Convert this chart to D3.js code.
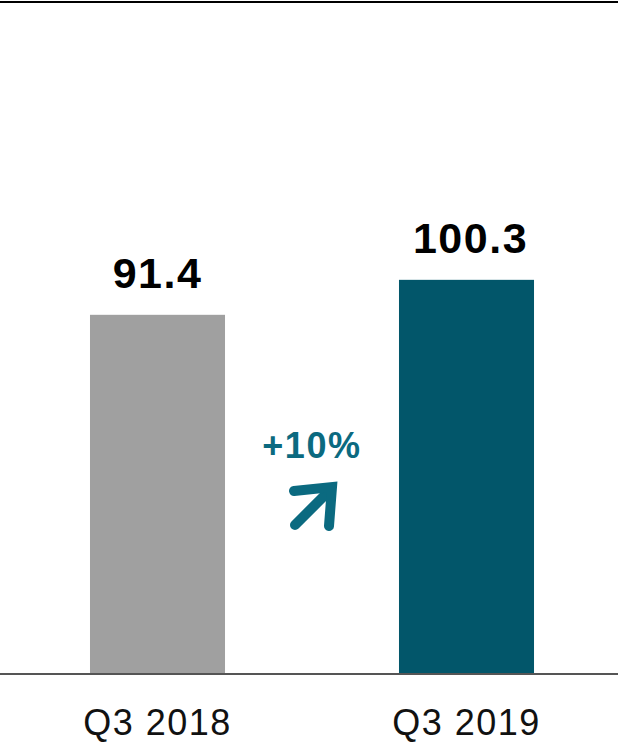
<!DOCTYPE html>
<html>
<head>
<meta charset="utf-8">
<script src="https://cdn.jsdelivr.net/npm/d3@7"></script>
<style>
  html, body { margin: 0; padding: 0; background: #fff; }
  svg { display: block; }
</style>
</head>
<body>
<div id="chart"></div>
<script>
// data
const categories = ["Q3 2018", "Q3 2019"];
const values = [91.4, 100.3];
const valueLabels = ["91.4", "100.3"];
const changeLabel = "+10%";

const width = 618;
const height = 742;
const baseY = 674;

const svg = d3.select("#chart")
  .append("svg")
  .attr("width", width)
  .attr("height", height);

//scales
const x = d3.scaleBand()
  .domain(categories)
  .range([3, 621])
  .paddingInner(0.563)
  .paddingOuter(0.2815);

const y = d3.scaleLinear().domain([0, 171]).range([baseY, 2]);

const colors = ["#a0a0a0", "#02566a"];
const teal = "#0b6a80";

//top rule
svg.append("line")
  .attr("x1", 0).attr("x2", width)
  .attr("y1", y(171)).attr("y2", y(171))
  .attr("stroke", "#000")
  .attr("stroke-width", 2);

//bars
svg.selectAll("rect.bar")
  .data(values)
  .join("rect")
  .attr("class", "bar")
  .attr("x", (d, i) => x(categories[i]))
  .attr("y", (d) => y(d))
  .attr("width", x.bandwidth())
  .attr("height", (d) => y(0) - y(d))
  .attr("fill", (d, i) => colors[i]);

//baseline
svg.append("line")
  .attr("x1", 0).attr("x2", width)
  .attr("y1", y(0)).attr("y2", y(0))
  .attr("stroke", "#555")
  .attr("stroke-width", 2);

//value labels
svg.selectAll("text.value")
  .data(values)
  .join("text")
  .attr("class", "value")
  .attr("x", (d, i) => x(categories[i]) + x.bandwidth() / 2)
  .attr("dx", (d, i) => (i === 1 ? 4 : 0))
  .attr("y", (d) => y(d) - 27)
  .attr("text-anchor", "middle")
  .attr("font-family", "Liberation Sans, Arial, sans-serif")
  .attr("font-weight", "bold")
  .attr("font-size", 43)
  .attr("letter-spacing", 1.5)
  .attr("fill", "#000")
  .text((d, i) => valueLabels[i]);

//category labels
svg.selectAll("text.cat")
  .data(categories)
  .join("text")
  .attr("class", "cat")
  .attr("x", (d) => x(d) + x.bandwidth() / 2)
  .attr("y", 735)
  .attr("text-anchor", "middle")
  .attr("font-family", "Liberation Sans, Arial, sans-serif")
  .attr("font-size", 36)
  .attr("letter-spacing", 1.5)
  .attr("fill", "#111")
  .text((d) => d);

//change label + arrow
const midX = (x(categories[0]) + x.bandwidth() + x(categories[1])) / 2;

svg.append("text")
  .attr("x", midX)
  .attr("y", 458)
  .attr("text-anchor", "middle")
  .attr("font-family", "Liberation Sans, Arial, sans-serif")
  .attr("font-weight", "bold")
  .attr("font-size", 36)
  .attr("letter-spacing", 1.6)
  .attr("fill", teal)
  .text(changeLabel);

const arrow = svg.append("g")
  .attr("transform", `translate(${midX},507)`)
  .attr("fill", "none")
  .attr("stroke", teal)
  .attr("stroke-width", 10)
  .attr("stroke-linecap", "round")
  .attr("stroke-linejoin", "miter");

arrow.append("path").attr("d", "M-17,18 L19,-18");
arrow.append("path").attr("d", "M-18,-16 L20,-20 L17,19");
</script>
</body>
</html>
